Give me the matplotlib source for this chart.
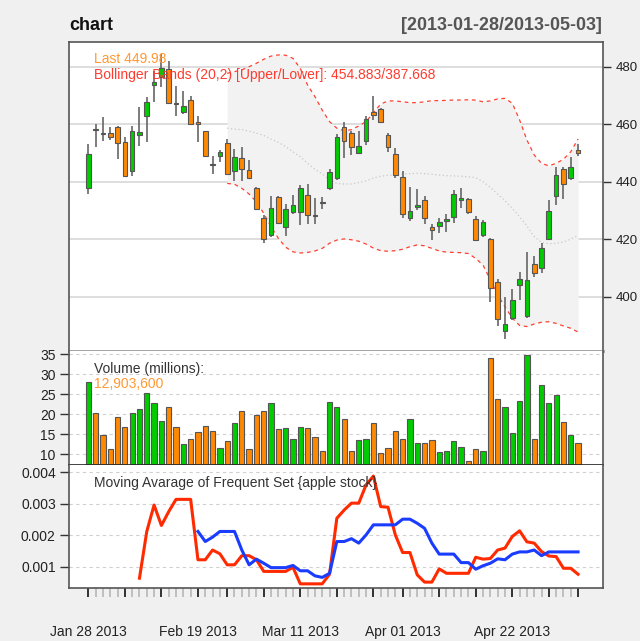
import numpy as np
import pandas as pd
import matplotlib
matplotlib.use('Agg')
import matplotlib.pyplot as plt

plt.rcParams['font.family'] = ['Liberation Sans', 'DejaVu Sans']

# trading days 2013-01-28 .. 2013-05-03 (Presidents Day and Good Friday closed)
dates = pd.bdate_range('2013-01-28', '2013-05-03')
dates = dates[~dates.isin(pd.to_datetime(['2013-02-18', '2013-03-29']))]

opens = [437.8, 458.4, 457.0, 456.9, 459.0, 453.8, 443.8, 456.3, 462.9, 473.6,
         476.5, 479.2, 467.3, 464.4, 468.4, 460.9, 457.6, 446.1, 449.0, 453.6,
         443.6, 448.2, 443.9, 437.8, 427.5, 421.5, 434.6, 424.4, 429.5, 429.6,
         435.4, 428.5, 432.8, 437.8, 441.2, 459.1, 457.1, 449.9, 454.2, 464.4,
         465.3, 456.3, 449.6, 441.8, 427.5, 431.3, 433.8, 424.3, 424.6, 426.4,
         427.7, 433.6, 434.0, 426.9, 421.6, 420.2, 405.0, 388.2, 392.7, 404.0,
         393.4, 411.3, 409.9, 420.1, 435.1, 444.5, 441.4, 451.1]
highs = [453.2, 460.1, 462.4, 459.2, 459.5, 455.7, 459.5, 466.1, 469.4, 478.6,
         484.4, 482.1, 473.4, 471.4, 469.9, 462.7, 457.8, 449.1, 451.2, 454.9,
         451.4, 452.1, 447.7, 438.2, 428.3, 435.1, 435.0, 432.1, 435.5, 439.0,
         439.1, 434.4, 434.7, 444.3, 456.6, 460.7, 457.8, 457.8, 463.0, 469.9,
         465.7, 456.9, 451.8, 443.7, 438.0, 437.3, 434.9, 425.2, 427.5, 428.7,
         437.0, 437.9, 434.3, 427.9, 426.6, 420.5, 406.0, 400.0, 402.8, 408.7,
         415.4, 414.1, 418.5, 433.5, 445.1, 445.1, 448.6, 453.0]
lows = [435.6, 452.0, 454.3, 454.6, 448.0, 441.6, 442.0, 452.4, 453.8, 467.6,
        472.8, 467.1, 462.8, 463.6, 459.9, 453.8, 448.6, 442.8, 446.8, 442.4,
        440.2, 440.2, 441.0, 430.1, 418.7, 420.6, 425.2, 421.0, 428.6, 425.0,
        425.2, 425.4, 430.6, 437.2, 440.5, 448.3, 449.4, 449.5, 452.8, 461.3,
        460.3, 450.3, 441.4, 427.4, 426.4, 430.1, 425.2, 419.7, 422.3, 422.5,
        425.7, 431.0, 428.9, 419.4, 420.8, 398.3, 389.8, 385.2, 391.9, 398.8,
        392.5, 406.9, 408.1, 419.9, 431.8, 434.1, 440.5, 448.8]
closes = [449.7, 458.0, 456.7, 455.5, 453.4, 442.0, 457.7, 457.2, 467.9, 474.6,
          479.5, 467.4, 467.0, 466.4, 460.1, 459.9, 448.8, 445.8, 450.5, 442.7,
          448.7, 444.4, 441.2, 430.4, 420.1, 431.0, 425.5, 430.4, 431.8, 437.8,
          428.4, 428.2, 432.5, 443.5, 455.4, 454.2, 451.9, 452.5, 461.8, 463.2,
          460.7, 451.9, 442.2, 428.7, 429.7, 432.0, 427.5, 423.1, 426.1, 427.0,
          435.6, 434.3, 429.5, 419.7, 426.1, 403.0, 392.3, 390.5, 398.7, 406.1,
          405.8, 408.4, 417.0, 429.9, 442.5, 439.3, 445.2, 449.98]
volume_m = [28.0, 20.3, 14.7, 11.2, 19.25, 16.9, 20.3, 21.2, 25.2, 22.7,
            18.4, 21.75, 16.75, 12.6, 13.8, 15.5, 17.0, 15.9, 11.6, 13.25,
            17.8, 20.9, 11.4, 19.7, 20.75, 22.9, 16.3, 16.6, 13.8, 16.75,
            16.6, 14.25, 10.75, 23.1, 21.7, 18.7, 10.75, 13.5, 13.8, 17.9,
            10.3, 11.6, 15.8, 13.9, 18.9, 12.8, 12.7, 13.5, 10.5, 10.75,
            13.3, 11.7, 8.25, 11.25, 10.75, 33.9, 23.7, 21.8, 15.3, 23.3,
            34.75, 13.75, 27.25, 22.9, 24.75, 18.1, 14.9, 12.9036]

nan = np.nan
bb_upper = [nan] * 19 + [
    477.7, 478.3, 478.9, 480.0, 481.2, 482.6, 483.7, 484.1, 484.0, 482.9,
    479.4, 473.6, 469.6, 464.9, 460.9, 458.6, 457.7, 458.1, 459.4, 460.9,
    464.0, 467.0, 468.1, 468.1, 467.8, 467.5, 467.5, 467.8, 468.2, 468.2,
    468.3, 468.4, 468.4, 468.5, 468.4, 467.8, 468.1, 468.8, 469.0, 467.3,
    461.5, 454.5, 449.3, 446.4, 445.5, 446.4, 447.8, 450.4, 454.883]
bb_mid = [nan] * 19 + [
    458.6, 458.3, 458.1, 457.6, 456.9, 456.1, 454.8, 453.7, 452.2, 450.4,
    448.7, 446.4, 444.3, 442.7, 440.6, 439.4, 439.2, 439.2, 439.7, 440.3,
    441.3, 441.9, 442.2, 442.4, 442.7, 442.8, 442.9, 442.8, 442.6, 442.3,
    442.1, 442.0, 441.9, 441.7, 441.4, 440.0, 438.0, 435.7, 433.4, 430.7,
    427.8, 424.6, 420.9, 418.9, 418.4, 418.6, 419.0, 420.0, 421.3]
bb_lower = [nan] * 19 + [
    439.4, 439.1, 437.7, 435.7, 433.0, 429.0, 424.3, 420.3, 417.2, 415.6,
    415.2, 415.4, 415.9, 416.8, 418.6, 419.7, 420.1, 419.8, 419.3, 418.3,
    416.9, 416.0, 415.8, 416.0, 416.5, 417.4, 418.0, 417.7, 416.8, 415.9,
    415.5, 415.4, 415.3, 415.0, 413.3, 411.0, 405.8, 400.6, 396.5, 392.5,
    390.0, 389.6, 390.5, 391.1, 391.3, 390.7, 389.8, 389.0, 387.668]

# moving average of frequent set (x 1e-3)
ma_red = [nan] * 7 + [
    0.635, 2.12, 2.96, 2.31, 2.75, 3.14, 3.14, 3.14, 1.22, 1.22,
    1.53, 1.41, 1.06, 1.06, 1.35, 1.35, 1.22, 0.85, 0.85, 0.85,
    0.85, 0.98, 0.455, 0.455, 0.455, 0.455, 0.76, 2.54, 2.80, 3.02,
    3.02, 3.60, 3.88, 2.91, 2.89, 2.01, 1.45, 1.45, 0.74, 0.51,
    0.51, 0.93, 0.79, 0.79, 0.79, 0.79, 1.30, 1.24, 1.26, 1.53,
    1.59, 1.96, 2.14, 1.79, 1.75, 1.48, 1.34, 1.32, 0.95, 0.95, 0.76]
ma_blue = [nan] * 15 + [
    2.12, 1.80, 1.94, 2.12, 2.12, 2.12, 1.53, 1.06, 1.24, 1.11,
    0.97, 0.97, 0.97, 1.04, 0.87, 0.87, 0.71, 0.66, 0.79, 1.80,
    1.80, 1.89, 1.75, 2.01, 2.33, 2.33, 2.33, 2.33, 2.51, 2.51,
    2.38, 2.22, 1.75, 1.40, 1.40, 1.40, 1.13, 1.13, 0.92, 1.03,
    1.11, 1.25, 1.22, 1.40, 1.47, 1.47, 1.53, 1.35, 1.47, 1.47,
    1.47, 1.47, 1.47]

label_dates = ['2013-01-28', '2013-02-19', '2013-03-11', '2013-04-01', '2013-04-22']

UP = '#00CC00'
DN = '#FF8800'
BG = '#F0F0F0'

x = np.arange(len(dates))
o = np.array(opens); c = np.array(closes)
cols = [UP if cc >= oo else DN for oo, cc in zip(o, c)]
xlim = (-2.64, 70.41)

fig = plt.figure(figsize=(6.4, 6.41), dpi=100, facecolor=BG)
L, W = 69 / 640, 534 / 640
H = 641
ax1 = fig.add_axes([L, 1 - 351 / H, W, 309 / H])
ax2 = fig.add_axes([L, 1 - 465 / H, W, 114 / H])
ax3 = fig.add_axes([L, 1 - 588 / H, W, 123 / H])

# ---- price panel
ax1.set_xlim(xlim)
ax1.set_ylim(381.1, 488.6)
for g in [400, 420, 440, 460, 480]:
    ax1.axhline(g, color='#D8D8D8', lw=1.2, zorder=0)
up = np.array(bb_upper); lo = np.array(bb_lower)
ax1.fill_between(x, up, lo, where=~np.isnan(up), color='#F2F2F2', lw=0, zorder=1)
ax1.plot(x, bb_upper, color='#FF4030', lw=0.9, ls=(0, (3, 3)), zorder=2)
ax1.plot(x, bb_lower, color='#FF4030', lw=0.9, ls=(0, (3, 3)), zorder=2)
ax1.plot(x, bb_mid, color='#C8C8C8', lw=0.9, ls=(0, (1, 2)), zorder=2)
ax1.vlines(x, lows, highs, color='#666666', lw=1.2, zorder=3)
body_lo = np.minimum(o, c)
body_h = np.maximum(np.abs(c - o), 0.15)
ax1.bar(x, body_h, bottom=body_lo, width=0.64, color=cols,
        edgecolor='#555555', linewidth=0.8, zorder=4)
ax1.yaxis.tick_right()
ax1.set_yticks([400, 420, 440, 460, 480])
ax1.tick_params(axis='y', length=6, width=1, color='#333333', labelsize=9.5,
                labelcolor='#222222', pad=3)
ax1.set_xticks([])
ax1.text(0.047, 0.945, 'Last 449.98', transform=ax1.transAxes, color='#FF9933',
         fontsize=10, va='center', zorder=6)
ax1.text(0.047, 0.893, 'Bollinger Bands (20,2) [Upper/Lower]: 454.883/387.668',
         transform=ax1.transAxes, color='#FF3B30', fontsize=10, va='center', zorder=6)

# ---- volume panel
ax2.set_xlim(xlim)
ax2.set_ylim(7.33, 35.75)
for g in [10, 15, 20, 25, 30, 35]:
    ax2.axhline(g, color='#D0D0D0', lw=0.8, ls=(0, (3, 3)), zorder=0)
ax2.bar(x, volume_m, width=0.72, color=cols, edgecolor='#555555', linewidth=0.8, zorder=2)
ax2.set_yticks([10, 15, 20, 25, 30, 35])
ax2.tick_params(axis='y', length=6.5, width=1, color='#333333', labelsize=10,
                labelcolor='#222222', pad=3)
ax2.set_xticks([])
ax2.text(0.047, 0.842, 'Volume (millions):', transform=ax2.transAxes, color='#333333',
         fontsize=10, va='center')
ax2.text(0.047, 0.711, '12,903,600', transform=ax2.transAxes, color='#FF9933',
         fontsize=10, va='center')

# ---- moving average panel
ax3.set_xlim(xlim)
ax3.set_ylim(0.000323, 0.004232)
for g in [0.001, 0.002, 0.003, 0.004]:
    ax3.axhline(g, color='#D0D0D0', lw=0.8, ls=(0, (3, 3)), zorder=0)
ax3.plot(x, np.array(ma_red) / 1000, color='#FF2A00', lw=2.2, zorder=3)
ax3.plot(x, np.array(ma_blue) / 1000, color='#1A3CFF', lw=2.2, zorder=3)
ax3.set_yticks([0.001, 0.002, 0.003, 0.004])
ax3.set_yticklabels(['0.001', '0.002', '0.003', '0.004'])
ax3.tick_params(axis='y', length=6.5, width=1, color='#333333', labelsize=10,
                labelcolor='#222222', pad=3)
ax3.text(0.047, 0.854, 'Moving Avarage of Frequent Set {apple stock}',
         transform=ax3.transAxes, color='#333333', fontsize=10, va='center')

week = dates.to_period('W')
major = [i for i in range(len(dates)) if i == 0 or week[i] != week[i - 1]] + [len(dates) - 1]
labpos = [list(dates).index(pd.Timestamp(d)) for d in label_dates]
ax3.set_xticks(x, minor=True)
ax3.set_xticks(major)
ax3.set_xticklabels([dates[i].strftime('%b %d %Y') if i in labpos else '' for i in major])
ax3.tick_params(axis='x', which='minor', length=6.5, width=1.3, color='#BBBBBB')
ax3.tick_params(axis='x', which='major', length=6.5, width=1.3, color='#222222',
                labelsize=10, labelcolor='#222222', pad=20)

for ax in (ax1, ax2, ax3):
    ax.set_facecolor('white')
    for s in ax.spines.values():
        s.set_color('#555555')
        s.set_linewidth(1.2)
ax1.spines['bottom'].set_color('#999999')
ax1.spines['bottom'].set_linewidth(2)
ax2.spines['top'].set_visible(False)
ax2.spines['bottom'].set_color('#222222')
ax3.spines['top'].set_visible(False)

fig.text(69 / 640, 1 - 26 / H, 'chart', fontsize=12.9, fontweight='bold',
         color='#111111', ha='left', va='center')
fig.text(602 / 640, 1 - 26 / H, '[2013-01-28/2013-05-03]', fontsize=12.9,
         fontweight='bold', color='#555555', ha='right', va='center')

fig.savefig('out.png', dpi=100, facecolor=BG)
